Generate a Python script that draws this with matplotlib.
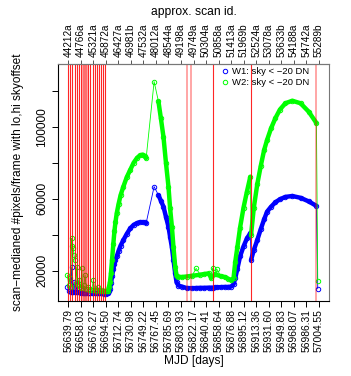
import matplotlib
matplotlib.use("Agg")
import matplotlib.pyplot as plt
import numpy as np

plt.rcParams['font.family'] = ['Liberation Sans', 'DejaVu Sans']

# scan MJDs with the per-band medianed pixel counts
mjd = [56638.6, 56640.3, 56641.8, 56643.2, 56644.7, 56645.5, 56647.1, 56648.0, 56649.6, 56651.0,
       56652.0, 56653.5, 56655.0, 56656.5, 56658.0, 56659.3, 56661.0, 56662.5, 56664.2, 56666.0,
       56668.0, 56670.0, 56672.0, 56674.0, 56676.3, 56678.5, 56680.5, 56682.5, 56684.5, 56686.5,
       56688.5, 56690.5, 56692.5, 56694.5, 56696.0,
       56697.7, 56699.0, 56700.6, 56702.0, 56703.5, 56705.4, 56707.0, 56708.5, 56710.4, 56713.0,
       56716.0, 56720.0, 56725.0, 56730.0, 56735.0, 56740.0, 56744.0, 56748.0, 56751.0, 56753.2,
       56764.8,
       56771.1, 56774.5, 56778.4, 56782.0, 56785.7, 56788.0, 56790.7, 56793.0, 56795.5, 56797.5,
       56800.3, 56805.0, 56812.0, 56820.0, 56826.0, 56832.0, 56838.0, 56844.0, 56848.0, 56850.0,
       56853.0, 56856.0, 56862.0, 56868.0, 56873.0, 56877.0,
       56880.5, 56883.0, 56886.0, 56890.0, 56895.0, 56900.0, 56904.9,
       56906.0, 56910.0, 56915.0, 56920.0, 56925.0, 56929.3, 56935.0, 56941.4, 56948.0, 56956.0,
       56966.0, 56978.0, 56990.0, 57001.2,
       57003.1]
w1 = [11000, 9000, 8600, 8400, 22000, 8300, 8300, 14000, 8200, 8200,
      12000, 8100, 8000, 8000, 7900, 9500, 7800, 7800, 7700, 7700,
      7600, 7600, 7500, 7500, 7500, 7500, 7400, 7400, 7400, 7400,
      7400, 7400, 7300, 7300, 7400,
      7500, 8500, 10000, 13000, 17000, 21000, 24000, 26000, 28000, 31000,
      34000, 37000, 40500, 43500, 45500, 46500, 47000, 47000, 46800, 46500,
      66700,
      62000, 59000, 55600, 50000, 44400, 39000, 33000, 26000, 18500, 13500,
      11800, 11200, 10400, 10300, 10400, 10500, 10500, 10600, 10600, 10600,
      10700, 10800, 10900, 11000, 11000, 11200,
      12500, 16000, 21000, 28000, 33500, 38000, 40800,
      26000, 31500, 37000, 43000, 48500, 52800, 55500, 58000, 59700, 61000,
      61500, 60500, 58500, 56000,
      10000]
w2 = [17500, 12000, 16000, 11000, 38000, 34000, 32400, 28700, 26000, 13000,
      22200, 12000, 15000, 11000, 10500, 21300, 10500, 12000, 17600, 10000,
      11000, 9500, 10000, 9500, 14800, 9500, 9000, 11000, 9200, 9000,
      9500, 8800, 9000, 8800, 9000,
      9000, 11000, 14000, 19000, 26000, 35000, 42000, 47000, 52000, 57000,
      62000, 66700, 72000, 76000, 80000, 82700, 84000, 84500, 83500, 82600,
      125000,
      114000, 105000, 94400, 80000, 66700, 55000, 44400, 33000, 22200, 17000,
      16700, 16500, 16800, 17200, 21300, 17800, 18200, 18500, 16000, 21500,
      18000, 21000, 17000, 16500, 15500, 14800,
      16000, 25000, 33000, 44000, 55000, 64000, 72200,
      40000, 55000, 68000, 78000, 87000, 92600, 99000, 104700, 109500, 113000,
      114400, 113000, 108300, 102000,
      14400]

# stretches where scans are so dense they form a solid band
dense_ranges = [(56697, 56754), (56770, 56905.5), (56905.8, 57002)]
# single high W2 scans sitting above the band
w2_spikes = [56826.0, 56850.0, 56856.0]

# frames flagged by sky offset (red) and partially flagged (pink)
red_mjd = [56639.79, 56642.7, 56645.6, 56649.1, 56652.1, 56655.4, 56658.3,
           56669.0, 56671.9, 56675.4, 56678.3, 56681.2, 56684.6, 56687.5, 56690.4, 56693.3,
           56849.9, 56905.9]
pink_mjd = [56660.8, 56662.4, 56664.0, 56665.6, 56667.0, 56812.5, 56818.8, 57001.2]

bottom_labels = ['56639.79', '56658.03', '56676.27', '56694.50', '56712.74', '56730.98',
                 '56749.22', '56767.45', '56785.69', '56803.93', '56822.17', '56840.41',
                 '56858.64', '56876.88', '56895.12', '56913.36', '56931.60', '56949.83',
                 '56968.07', '56986.31', '57004.55']
scan_ids = ['44212a', '44766a', '45321a', '45872a', '46427a', '46981b', '47532a', '48012a',
            '48544a', '49198a', '49749a', '50304a', '50858a', '51413a', '51969b', '52524a',
            '53078a', '53633b', '54188a', '54742a', '55289b']
ytick_vals = [20000, 40000, 60000, 80000, 100000, 120000]
ytick_text = ['20000', '', '60000', '', '100000', '']

fig = plt.figure(figsize=(3.51, 3.76), dpi=100)
ax = fig.add_axes([58/351, 75/376, 271/351, 237/376])

mjd_a = np.array(mjd)
series = [(w1, '#0000ff', 'W1: sky < \u221220 DN', []),
          (w2, '#00ff00', 'W2: sky < \u221220 DN', w2_spikes)]
for vals, col, lab, spikes in series:
    v = np.array(vals)
    ax.plot(mjd_a, v, color=col, lw=0.6, marker='o', ms=3.2, mfc='none', mew=0.7, label=lab)
    keep = ~np.isin(mjd_a, spikes)
    for lo, hi in dense_ranges:
        m = (mjd_a >= lo) & (mjd_a <= hi) & keep
        ax.plot(mjd_a[m], v[m], color=col, lw=3.2, solid_capstyle='round', solid_joinstyle='round')

for x in red_mjd:
    ax.axvline(x, color='#ff0000', lw=0.8, alpha=0.85)
for x in pink_mjd:
    ax.axvline(x, color='#ff0000', lw=1.4, alpha=0.35)

ax.set_xlim(56624.8, 57019.5)
ax.set_ylim(3200, 134800)

ticks = [float(s) for s in bottom_labels]
ax.set_xticks(ticks)
ax.set_xticklabels(bottom_labels, rotation=90, fontsize=7.4)
ax.set_yticks(ytick_vals)
ax.set_yticklabels(ytick_text, rotation=90, va='center', fontsize=8.6)
ax.tick_params(axis='x', length=4, width=0.7, pad=2)
ax.tick_params(axis='y', length=4, width=0.7, pad=3)

top = ax.secondary_xaxis('top')
top.set_xticks(ticks)
top.set_xticklabels(scan_ids, rotation=90, fontsize=7.2)
top.tick_params(length=3, width=0.7, pad=2, color='#555555')
top.spines['top'].set_color('#777777')
ax.spines['top'].set_color('#777777')
ax.spines['right'].set_color('#777777')

leg = ax.legend(loc='upper left', bbox_to_anchor=((222-58)/271, 1 - 3/237), frameon=False,
                fontsize=6.8, handlelength=0.6, handletextpad=0.5, labelspacing=0.2,
                borderpad=0, borderaxespad=0)
for h in leg.legend_handles:
    h.set_linestyle('none')

fig.text(193.5/351, 1 - 12/376, 'approx. scan id.', ha='center', va='center', fontsize=8.7)
fig.text(193.5/351, 1 - 361/376, 'MJD [days]', ha='center', va='center', fontsize=8.6)
fig.text(18/351, 1 - 182.5/376, 'scan\u2212medianed #pixels/frame with lo,hi skyoffset',
         ha='center', va='center', rotation=90, fontsize=8.6)

fig.savefig('out.png', dpi=100)
